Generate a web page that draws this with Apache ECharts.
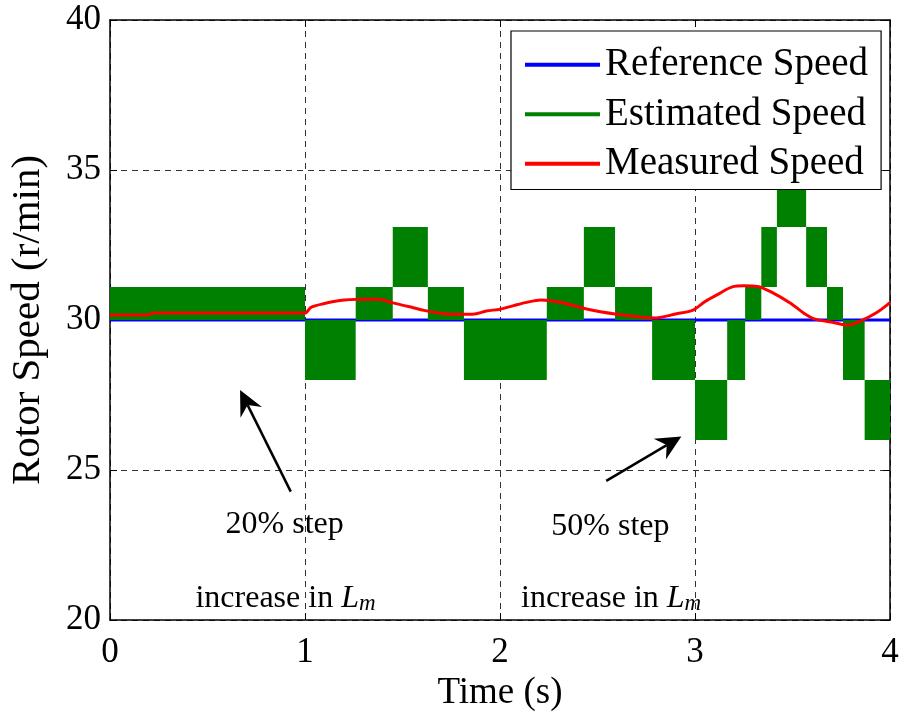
<!DOCTYPE html>
<html>
<head>
<meta charset="utf-8">
<script src="https://cdn.jsdelivr.net/npm/echarts@6/dist/echarts.min.js"></script>
<style>
  html, body { margin: 0; padding: 0; background: #ffffff; }
  #chart { width: 903px; height: 717px; }
</style>
</head>
<body>
<div id="chart"></div>
<script>
// Axis ticks
const timeTicks = [0, 1, 2, 3, 4];
const speedTicks = [20, 25, 30, 35, 40];

// Reference speed (r/min)
const referenceTime = [0, 4];
const referenceSpeed = [30, 30];

// Estimated speed: within each interval the estimate chatters between two levels
const estStart = [0.00, 1.00, 1.26, 1.45, 1.63, 1.815, 2.24, 2.43, 2.59, 2.78, 3.00, 3.165, 3.257, 3.34, 3.42, 3.57, 3.677, 3.759, 3.87];
const estEnd   = [1.00, 1.26, 1.45, 1.63, 1.815, 2.24, 2.43, 2.59, 2.78, 3.00, 3.165, 3.257, 3.34, 3.42, 3.57, 3.677, 3.759, 3.87, 4.00];
const estLow   = [30, 28, 30, 31.1, 30, 28, 30, 31.1, 30, 28, 26, 28, 30, 31.1, 33.1, 31.1, 30, 28, 26];
const estHigh  = [31.1, 30, 31.1, 33.1, 31.1, 30, 31.1, 33.1, 31.1, 30, 28, 30, 31.1, 33.1, 35, 33.1, 31.1, 30, 28];

// Measured speed (r/min)
const measuredTime = [0, 0.20, 0.22, 1.00, 1.03, 1.10, 1.17, 1.28, 1.38, 1.45, 1.53, 1.61, 1.70, 1.80, 1.87, 1.93, 2.00, 2.07, 2.13, 2.21, 2.27, 2.33, 2.45, 2.59, 2.73, 2.80, 2.90, 2.99, 3.05, 3.11, 3.20, 3.25, 3.32, 3.39, 3.49, 3.56, 3.62, 3.71, 3.78, 3.84, 3.93, 4.00];
const measuredSpeed = [30.17, 30.17, 30.23, 30.23, 30.42, 30.55, 30.64, 30.69, 30.69, 30.57, 30.45, 30.32, 30.22, 30.19, 30.20, 30.30, 30.36, 30.48, 30.58, 30.67, 30.63, 30.56, 30.36, 30.20, 30.09, 30.07, 30.20, 30.33, 30.61, 30.83, 31.12, 31.14, 31.12, 30.94, 30.56, 30.22, 30.02, 29.92, 29.83, 29.94, 30.24, 30.58];

// Annotations: arrows (tail -> tip) and notes, in data coordinates
const arrowTail = [[0.927, 24.28], [2.545, 24.64]];
const arrowTip  = [[0.667, 27.67], [2.930, 26.12]];
const noteStep  = ['20% step', '50% step'];
const noteStepPos = [[0.896, 23.17], [2.566, 23.10]];
const noteLmPos = [[0.900, 20.70], [2.570, 20.70]];

const FONT = 'Liberation Serif, Times New Roman, serif';
const BLACK = '#000000';

const estRows = estStart.map((t, i) => [t, estEnd[i], estLow[i], estHigh[i]]);

const chart = echarts.init(document.getElementById('chart'), null, { renderer: 'canvas' });

const baseAxis = {
  type: 'value',
  interval: 1,
  axisLine: { show: true, onZero: false, lineStyle: { color: BLACK, width: 1.5 } },
  axisTick: { show: true, inside: true, length: 7, lineStyle: { color: BLACK, width: 1 } },
  splitLine: { show: false },
  axisLabel: { show: false }
};

const option = {
  animation: false,
  backgroundColor: '#ffffff',
  grid: { left: 109, top: 20, width: 781, height: 600, containLabel: false },
  legend: {
    left: 511,
    top: 31,
    orient: 'vertical',
    backgroundColor: '#ffffff',
    borderColor: BLACK,
    borderWidth: 1.2,
    borderRadius: 0,
    padding: [9, 13, 1, 14],
    itemWidth: 75,
    itemHeight: 4,
    itemGap: 0,
    textStyle: { fontFamily: FONT, fontSize: 39, color: BLACK, lineHeight: 49.5 },
    data: [
      { name: 'Reference Speed', icon: 'rect' },
      { name: 'Estimated Speed', icon: 'rect' },
      { name: 'Measured Speed', icon: 'rect' }
    ]
  },
  xAxis: [
    Object.assign({}, baseAxis, {
      min: timeTicks[0], max: timeTicks[timeTicks.length - 1], position: 'bottom',
      splitLine: { show: true, lineStyle: { color: '#333333', width: 1, type: [6, 5] } },
      axisLabel: { show: true, color: BLACK, fontFamily: FONT, fontSize: 35, margin: 15 },
      name: 'Time (s)', nameLocation: 'middle', nameGap: 54,
      nameTextStyle: { fontFamily: FONT, fontSize: 37, color: BLACK }
    }),
    Object.assign({}, baseAxis, {
      min: timeTicks[0], max: timeTicks[timeTicks.length - 1], position: 'top'
    })
  ],
  yAxis: [
    Object.assign({}, baseAxis, {
      min: speedTicks[0], max: speedTicks[speedTicks.length - 1], interval: 5, position: 'left',
      splitLine: { show: true, lineStyle: { color: '#333333', width: 1, type: [6, 5] } },
      axisLabel: { show: true, color: BLACK, fontFamily: FONT, fontSize: 35, margin: 9 },
      name: 'Rotor Speed (r/min)', nameLocation: 'middle', nameGap: 61,
      nameTextStyle: { fontFamily: FONT, fontSize: 41, color: BLACK }
    }),
    Object.assign({}, baseAxis, {
      min: speedTicks[0], max: speedTicks[speedTicks.length - 1], interval: 5, position: 'right'
    })
  ],
  series: [
    {
      name: 'Reference Speed',
      type: 'line',
      z: 1,
      symbol: 'none',
      color: '#0000ff',
      lineStyle: { color: '#0000ff', width: 3 },
      data: referenceTime.map((t, i) => [t, referenceSpeed[i]])
    },
    {
      name: 'Estimated Speed',
      type: 'custom',
      z: 2,
      color: '#008000',
      itemStyle: { color: '#008000' },
      encode: { x: [0, 1], y: [2, 3] },
      renderItem: function (params, api) {
        const p0 = api.coord([api.value(0), api.value(3)]);
        const p1 = api.coord([api.value(1), api.value(2)]);
        return {
          type: 'rect',
          shape: { x: p0[0], y: p0[1], width: p1[0] - p0[0], height: p1[1] - p0[1] },
          style: { fill: '#008000' }
        };
      },
      data: estRows
    },
    {
      name: 'Measured Speed',
      type: 'line',
      z: 3,
      symbol: 'none',
      smooth: 0.3,
      color: '#ff0000',
      lineStyle: { color: '#ff0000', width: 3 },
      data: measuredTime.map((t, i) => [t, measuredSpeed[i]])
    }
  ]
};

chart.setOption(option);

// Annotation arrows and notes placed through the axis scales
function px(p) { return chart.convertToPixel({ xAxisIndex: 0, yAxisIndex: 0 }, p); }

const graphics = [];
arrowTail.forEach((tail, i) => {
  const a = px(tail), b = px(arrowTip[i]);
  const dx = b[0] - a[0], dy = b[1] - a[1];
  const len = Math.sqrt(dx * dx + dy * dy);
  const ux = dx / len, uy = dy / len;
  const nx = -uy, ny = ux;
  const headLen = 25, halfW = 12, notch = 17;
  const notchPt = [b[0] - ux * notch, b[1] - uy * notch];
  graphics.push({
    type: 'line', z: 100,
    shape: { x1: a[0], y1: a[1], x2: notchPt[0], y2: notchPt[1] },
    style: { stroke: BLACK, lineWidth: 2.5 }
  });
  graphics.push({
    type: 'polygon', z: 100,
    shape: {
      points: [
        b,
        [b[0] - ux * headLen + nx * halfW, b[1] - uy * headLen + ny * halfW],
        notchPt,
        [b[0] - ux * headLen - nx * halfW, b[1] - uy * headLen - ny * halfW]
      ]
    },
    style: { fill: BLACK }
  });
});

noteStep.forEach((txt, i) => {
  const p = px(noteStepPos[i]);
  graphics.push({
    type: 'text', z: 100, x: p[0], y: p[1],
    style: { text: txt, fontFamily: FONT, fontSize: 32, fill: BLACK, align: 'center', verticalAlign: 'middle' }
  });
  const q = px(noteLmPos[i]);
  graphics.push({
    type: 'text', z: 100, x: q[0], y: q[1],
    style: {
      text: 'increase in {it|L}{sub|m}',
      fontFamily: FONT, fontSize: 32, fill: BLACK, align: 'center', verticalAlign: 'middle',
      rich: {
        it: { fontFamily: FONT, fontSize: 32, fontStyle: 'italic', fill: BLACK },
        sub: { fontFamily: FONT, fontSize: 23, fontStyle: 'italic', fill: BLACK, verticalAlign: 'bottom' }
      }
    }
  });
});

chart.setOption({ graphic: graphics });
</script>
</body>
</html>
